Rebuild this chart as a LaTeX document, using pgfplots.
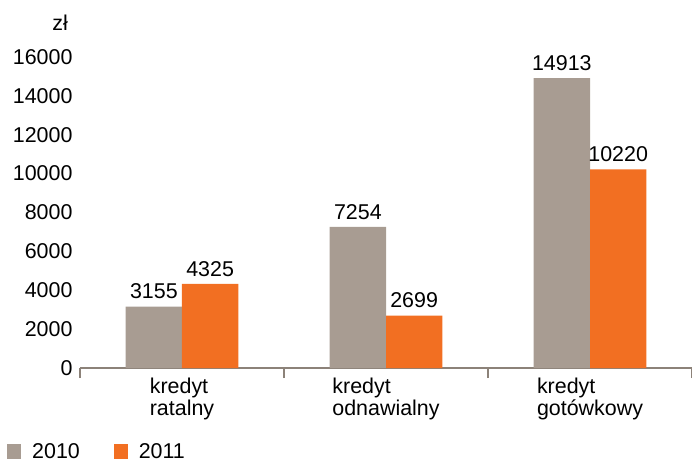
\documentclass[border=0pt]{standalone}
\usepackage{pgfplots}
\pgfplotsset{compat=1.18}
\usepackage{fontspec}
\setmainfont{Liberation Sans}
\definecolor{cgray}{HTML}{A89C92}
\definecolor{corange}{HTML}{F26F22}
\definecolor{caxis}{HTML}{8C8279}
\newcommand{\cf}{\fontsize{21.5}{23}\selectfont}
\begin{document}
\begin{tikzpicture}
\path[use as bounding box] (-80bp,-94bp) rectangle (612bp,368bp);
\begin{axis}[
  at={(0,0)}, anchor=south west,
  scale only axis, width=612bp, height=311bp,
  xmin=-0.5, xmax=2.5, ymin=0, ymax=16000,
  clip=false,
  axis x line*=bottom, axis y line*=left,
  x axis line style={draw=caxis, line width=1.5bp, -},
  y axis line style={draw=none},
  ytick={0,2000,...,16000},
  ytick style={draw=none},
  scaled y ticks=false,
  /pgf/number format/1000 sep={},
  /pgf/number format/assume math mode=true,
  yticklabel style={font=\cf, text=black, xshift=-4bp},
  xtick={0,1,2},
  xticklabels={{kredyt\\ratalny},{kredyt\\odnawialny},{kredyt\\gotówkowy}},
  xticklabel style={align=left, font=\cf, text=black, yshift=-6bp},
  major tick length=0pt,
  minor xtick={-0.5,0.5,1.5,2.5},
  minor tick length=10bp,
  xtick align=outside,
  minor x tick style={draw=caxis, line width=1.5bp},
  ybar=0pt, bar width=0.276,
  nodes near coords,
  every node near coord/.append style={font=\cf, text=black, yshift=4bp},
  legend style={at={(-0.1193,-0.2685)}, anchor=west, draw=none, fill=none,
    inner sep=0pt, font=\cf, legend columns=2,
    /tikz/every odd column/.append style={column sep=9bp},
    /tikz/every even column/.append style={column sep=32bp}},
  legend cell align=left,
]
\addplot[fill=cgray, draw=none,
  legend image code/.code={\fill[cgray] (0bp,-7.5bp) rectangle (14bp,7.5bp);}]
  coordinates {(0,3155) (1,7254) (2,14913)};
\addplot[fill=corange, draw=none,
  legend image code/.code={\fill[corange] (0bp,-7.5bp) rectangle (14bp,7.5bp);}]
  coordinates {(0,4325) (1,2699) (2,10220)};
\legend{2010,2011}
\node[anchor=base east, inner sep=0pt, font=\cf] at ([xshift=-12bp,yshift=26bp]rel axis cs:0,1) {zł};
\end{axis}
\end{tikzpicture}
\end{document}
